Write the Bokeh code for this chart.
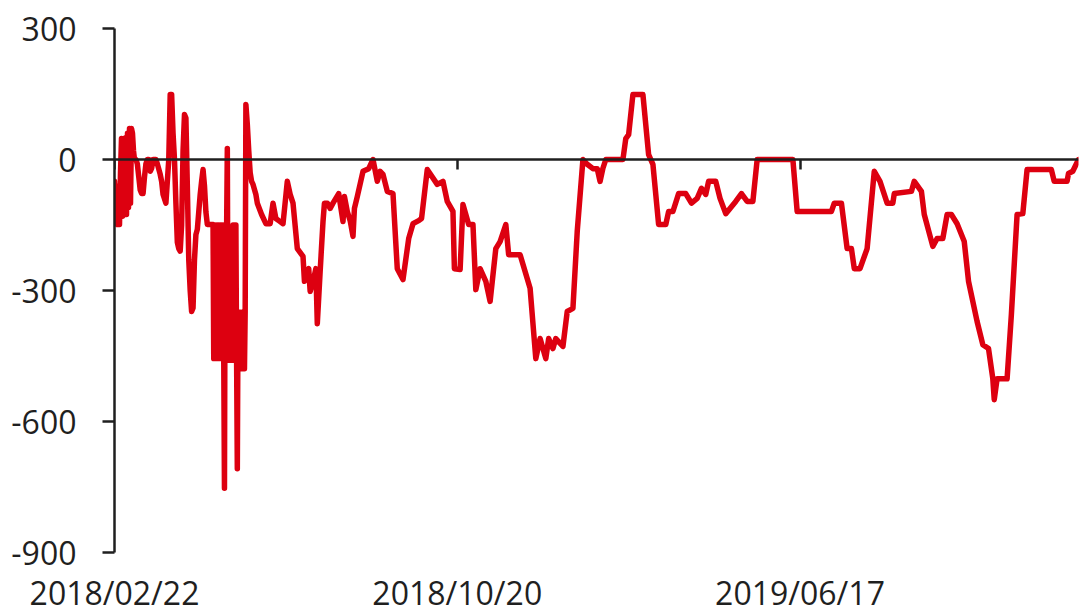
import datetime as dt
from bokeh.plotting import figure
from bokeh.models import (DatetimeAxis, FixedTicker, DatetimeTickFormatter, Range1d,
                          ColumnDataSource, CustomJSTickFormatter)
from bokeh.embed import file_html
from bokeh.resources import INLINE

# ---------------- data ----------------
start_date = dt.datetime(2018, 2, 22)

day_offsets = [
    0, 0.7, 1.4, 2.1, 2.8, 3.5, 4.2, 4.9, 5.6, 6.3, 7, 7.7, 8.4, 9.1, 9.8, 10.5, 11.2, 11.9,
    12.6, 13.3, 14, 15,
    16, 17, 18, 19, 20, 21, 22, 23, 24, 25, 26, 27, 29, 30, 32, 33, 34, 36, 37, 38, 39, 40, 41,
    42, 43, 44, 45, 46, 47, 48, 49, 50, 51, 52, 53, 54, 55, 56, 57, 58, 59, 60, 61, 62, 63, 64,
    65,
    69, 69.5, 70, 70.5, 71, 71.5, 72, 72.5, 73, 73.5, 74, 74.5, 75, 75.5, 76, 76.5, 77, 77.5,
    78, 78.5, 79, 79.5, 80, 80.5, 81, 81.5, 82, 82.5, 83, 83.5, 84, 84.5, 85, 85.5, 86, 86.5,
    87, 87.5, 88, 88.5, 89, 89.5, 90, 90.5, 91, 91.5, 92,
    93, 94, 95, 96, 97, 99, 100,
    103, 106, 109, 111, 113, 115, 118, 121, 123, 125, 128, 132, 133, 136, 137, 139, 141, 142,
    144, 146, 147, 149, 151, 153, 157, 158, 160, 161, 163, 165, 167, 168, 170, 174, 178, 181,
    184, 186, 188, 191, 195, 198, 202, 206, 209, 213, 215, 219, 226, 230, 233, 237, 238, 242,
    244, 248, 251, 253, 256, 260, 263, 267, 270, 274, 276, 284, 291, 295, 298, 302, 304, 307,
    309, 314, 317, 321, 324, 328, 331, 335, 338, 340, 342, 344, 356, 358, 360, 363, 370, 374,
    377, 381, 386, 388, 391, 395, 400, 404, 408, 411, 414, 416, 421, 424, 428, 431, 435, 439,
    443, 447, 450, 475, 478, 502, 504, 509, 513, 516, 518, 522, 527, 532, 536, 541, 545, 546,
    558, 560, 565, 567, 573, 576, 580, 583, 586, 590, 595, 598, 604, 608, 612, 615, 616, 618,
    625, 628, 632, 636, 639, 656, 658, 667, 668, 671, 675,
]

net_values = [
    -50, -120, -60, -149, -90, -149, -30, 48, -130, 40, -126, 50, -126, 60, -110, 71, -100, 71,
    60, 20, 0, 0,
    -10, -40, -70, -78, -78, -40, -10, 0, 0, -27, -20, 0, 0, -10, -34, -50, -80, -100, -50, 0,
    149, 149, 60, 0, -100, -190, -204, -210, -150, 20, 103, 95, -60, -230, -300, -348, -340,
    -230, -172, -160, -120, -80, -50, -23, -60, -120, -149,
    -149, -456, -150, -456, -150, -456, -150, -456, -150, -456, -150, -456, -150, -456, -150,
    -456, -753, -160, -456, -160, 25, -456, -160, -460, -160, -460, -160, -460, -150, -460,
    -150, -460, -150, -460, -708, -350, -479, -350, -479, -350, -479, -350, -479, -350, -479,
    -350, 126,
    80, 20, -30, -50, -57, -80, -100,
    -126, -147, -147, -100, -135, -140, -147, -50, -80, -100, -204,
    -222, -279, -250, -302, -280, -250, -376, -256, -142, -100, -100, -112, -100, -78, -100, -142,
    -85, -119, -140, -176, -112, -85, -27, -21, 0, -50, -27, -34, -73, -78, -250, -275, -181,
    -147, -140, -135, -23, -57, -50, -96, -119, -250, -252, -103, -149, -149, -298, -250, -279,
    -325, -204, -188, -149, -218, -218, -295, -456, -410, -456, -410, -433, -410, -428, -348,
    -341, -165, 0, -11, -21, -21, -50, -20, 0, 0, 48, 57, 149, 149, 11, -11, -149, -149, -119,
    -119, -78, -78, -100, -89, -66, -80, -50, -50, -89, -124, -112, -96, -78, -96, -96, 0, 0,
    -119, -119, -100, -100, -204, -204, -250, -250, -204, -27, -50, -100, -100, -78, -73, -50,
    -73, -126, -199, -181, -181, -126, -126, -147, -188, -279, -371, -424, -433, -502, -550,
    -502, -502, -355, -126, -124, -23, -23, -50, -50, -32, -27, 0,
]

x_tick_dates = ["2018/02/22", "2018/10/20", "2019/06/17"]
y_ticks = [-900, -600, -300, 0, 300]

assert len(day_offsets) == len(net_values), (len(day_offsets), len(net_values))

# ---------------- build ----------------
dates = [start_date + dt.timedelta(days=d) for d in day_offsets]
src = ColumnDataSource(dict(date=dates, value=net_values))

epoch = dt.datetime(1970, 1, 1)
tick_ms = [(dt.datetime.strptime(s, "%Y/%m/%d") - epoch).total_seconds() * 1000.0
           for s in x_tick_dates]

FONT = "Open Sans"
TXT = "#1f1f1f"
AXIS = "#1f1f1f"

p = figure(width=1080, height=616, x_axis_type="datetime",
           x_range=Range1d(dates[0], dates[-1]),
           y_range=Range1d(min(y_ticks), max(y_ticks)),
           output_backend="svg", toolbar_location=None,
           min_border_left=114, min_border_right=2, min_border_top=28, min_border_bottom=64)
p.outline_line_color = None
p.xgrid.visible = False
p.ygrid.visible = False
p.background_fill_color = "white"
p.border_fill_color = "white"

p.line(x="date", y="value", source=src, line_color="#DD0010", line_width=5.5,
       line_join="round", line_cap="round")

fmt = "%Y/%m/%d"
date_fmt = DatetimeTickFormatter(microseconds=fmt, milliseconds=fmt, seconds=fmt,
                                 minsec=fmt, minutes=fmt, hourmin=fmt, hours=fmt,
                                 days=fmt, months=fmt, years=fmt)

# bottom axis: labels only
xa = p.xaxis[0]
xa.ticker = FixedTicker(ticks=tick_ms)
xa.formatter = date_fmt
xa.axis_line_color = None
xa.major_tick_line_color = None
xa.minor_tick_line_color = None
xa.major_tick_out = 0
xa.major_tick_in = 0
xa.major_label_standoff = 18
xa.major_label_text_font = FONT
xa.major_label_text_font_size = "32px"
xa.major_label_text_color = TXT

# axis line crossing at zero with ticks, no labels
zero_axis = DatetimeAxis(fixed_location=0, ticker=FixedTicker(ticks=tick_ms),
                         formatter=CustomJSTickFormatter(code="return ''"),
                         axis_line_color=AXIS, axis_line_width=2.5,
                         major_tick_line_color=AXIS, major_tick_line_width=2.5,
                         major_tick_out=10, major_tick_in=0,
                         minor_tick_line_color=None)
p.add_layout(zero_axis, "below")

ya = p.yaxis[0]
ya.ticker = FixedTicker(ticks=y_ticks)
ya.formatter = CustomJSTickFormatter(code="return String(Math.round(tick))")
ya.axis_line_color = AXIS
ya.axis_line_width = 2.5
ya.major_tick_line_color = AXIS
ya.major_tick_line_width = 2.5
ya.major_tick_out = 12
ya.major_tick_in = 0
ya.minor_tick_line_color = None
ya.major_label_standoff = 26
ya.major_label_text_font = FONT
ya.major_label_text_font_size = "32px"
ya.major_label_text_color = TXT

open("out.html", "w").write(file_html(p, INLINE))
